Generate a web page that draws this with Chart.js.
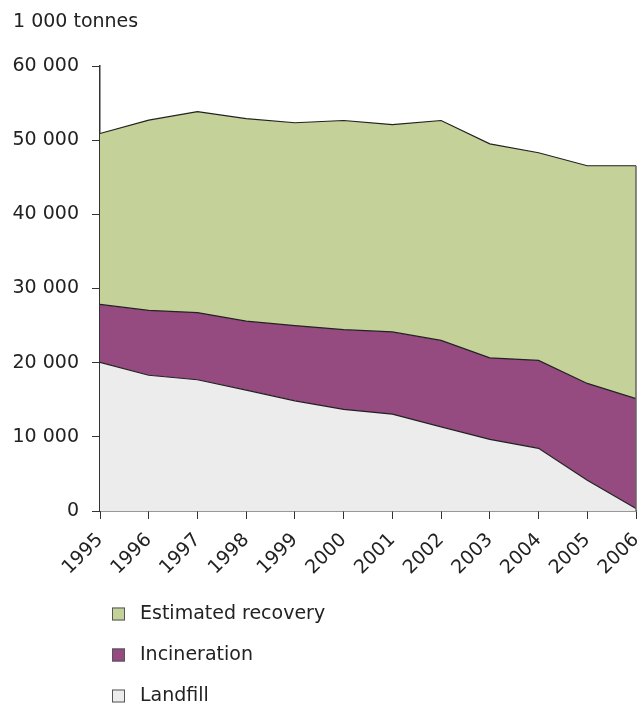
<!DOCTYPE html>
<html>
<head>
<meta charset="utf-8">
<script src="https://cdn.jsdelivr.net/npm/chart.js@4/dist/chart.umd.min.js"></script>
<style>
  body { margin: 0; background: #fff; }
  #wrap { width: 644px; height: 704px; position: relative; }
</style>
</head>
<body>
<div id="wrap"><canvas id="wasteChart"></canvas></div>
<script>
const years = ['1995', '1996', '1997', '1998', '1999', '2000', '2001', '2002', '2003', '2004', '2005', '2006'];
const landfill = [20050, 18300, 17700, 16300, 14850, 13700, 13050, 11350, 9650, 8450, 4150, 350];
const incineration = [7800, 8750, 9050, 9300, 10150, 10750, 11100, 11650, 11000, 11850, 13050, 14800];
const recovery = [23050, 25650, 27100, 27300, 27350, 28200, 27950, 29650, 28850, 28000, 29350, 31400];
const yTicks = [0, 10000, 20000, 30000, 40000, 50000, 60000];
const unitLabel = '1 000 tonnes';

const FONT = '"DejaVu Sans", Verdana, sans-serif';
const FSIZE = 19;

function fmt(v) {
  return String(v).replace(/\B(?=(\d{3})+(?!\d))/g, ' ');
}

// title, closing edge of the areas and the vertical legend
const extras = {
  id: 'extras',
  afterDatasetsDraw(chart) {
    const ctx = chart.ctx;
    const xs = chart.scales.x, ys = chart.scales.y;
    const last = years.length - 1;
    const top = landfill[last] + incineration[last] + recovery[last];
    const x = xs.getPixelForValue(last);
    ctx.save();
    ctx.strokeStyle = '#666';
    ctx.lineWidth = 1.5;
    ctx.beginPath();
    ctx.moveTo(x, ys.getPixelForValue(top));
    ctx.lineTo(x, ys.getPixelForValue(0));
    ctx.stroke();
    ctx.restore();
  },
  afterDraw(chart) {
    const ctx = chart.ctx;
    ctx.save();
    ctx.font = FSIZE + 'px ' + FONT;
    ctx.fillStyle = '#222';
    ctx.textBaseline = 'middle';
    ctx.textAlign = 'left';
    ctx.fillText(unitLabel, 13, 22);

    const items = chart.data.datasets.slice().reverse();
    items.forEach((ds, i) => {
      const y = 614 + i * 41;
      ctx.fillStyle = ds.backgroundColor;
      ctx.fillRect(112, y - 6.5, 13, 13);
      ctx.strokeStyle = '#555';
      ctx.lineWidth = 1;
      ctx.strokeRect(112.5, y - 6, 12, 12);
      ctx.fillStyle = '#222';
      ctx.fillText(ds.label, 140, y);
    });
    ctx.restore();
  }
};

const ctx = document.getElementById('wasteChart').getContext('2d');
new Chart(ctx, {
  type: 'line',
  data: {
    labels: years,
    datasets: [
      {
        label: 'Landfill',
        data: landfill,
        backgroundColor: '#ebeceb',
        borderColor: '#222',
        borderWidth: 1.2,
        fill: 'origin'
      },
      {
        label: 'Incineration',
        data: incineration,
        backgroundColor: '#954a80',
        borderColor: '#222',
        borderWidth: 1.2,
        fill: '-1'
      },
      {
        label: 'Estimated recovery',
        data: recovery,
        backgroundColor: '#c4d29a',
        borderColor: '#222',
        borderWidth: 1.2,
        fill: '-1'
      }
    ]
  },
  options: {
    responsive: true,
    maintainAspectRatio: false,
    animation: false,
    elements: { point: { radius: 0 }, line: { tension: 0 } },
    layout: { padding: { top: 66, left: 13, right: 8, bottom: 0 } },
    plugins: {
      legend: { display: false },
      tooltip: { enabled: false }
    },
    scales: {
      x: {
        offset: false,
        afterFit: (s) => { s.paddingLeft = 0; s.paddingRight = 0; s.height = 193; },
        grid: { drawOnChartArea: false, color: '#333', tickLength: 8 },
        border: { color: '#333', width: 1.5 },
        ticks: {
          color: '#222',
          font: { family: FONT, size: FSIZE },
          minRotation: 45,
          maxRotation: 45,
          autoSkip: false,
          padding: 10
        }
      },
      y: {
        stacked: true,
        min: 0,
        max: 60000,
        afterBuildTicks: (scale) => { scale.ticks = yTicks.map(v => ({ value: v })); },
        afterFit: (s) => { s.paddingTop = 0; s.paddingBottom = 0; s.width = 87; },
        grid: { drawOnChartArea: false, color: '#333', tickLength: 8 },
        border: { color: '#333', width: 1.5 },
        ticks: {
          color: '#222',
          font: { family: FONT, size: FSIZE },
          padding: 13,
          callback: (v) => fmt(v)
        }
      }
    }
  },
  plugins: [extras]
});
</script>
</body>
</html>
